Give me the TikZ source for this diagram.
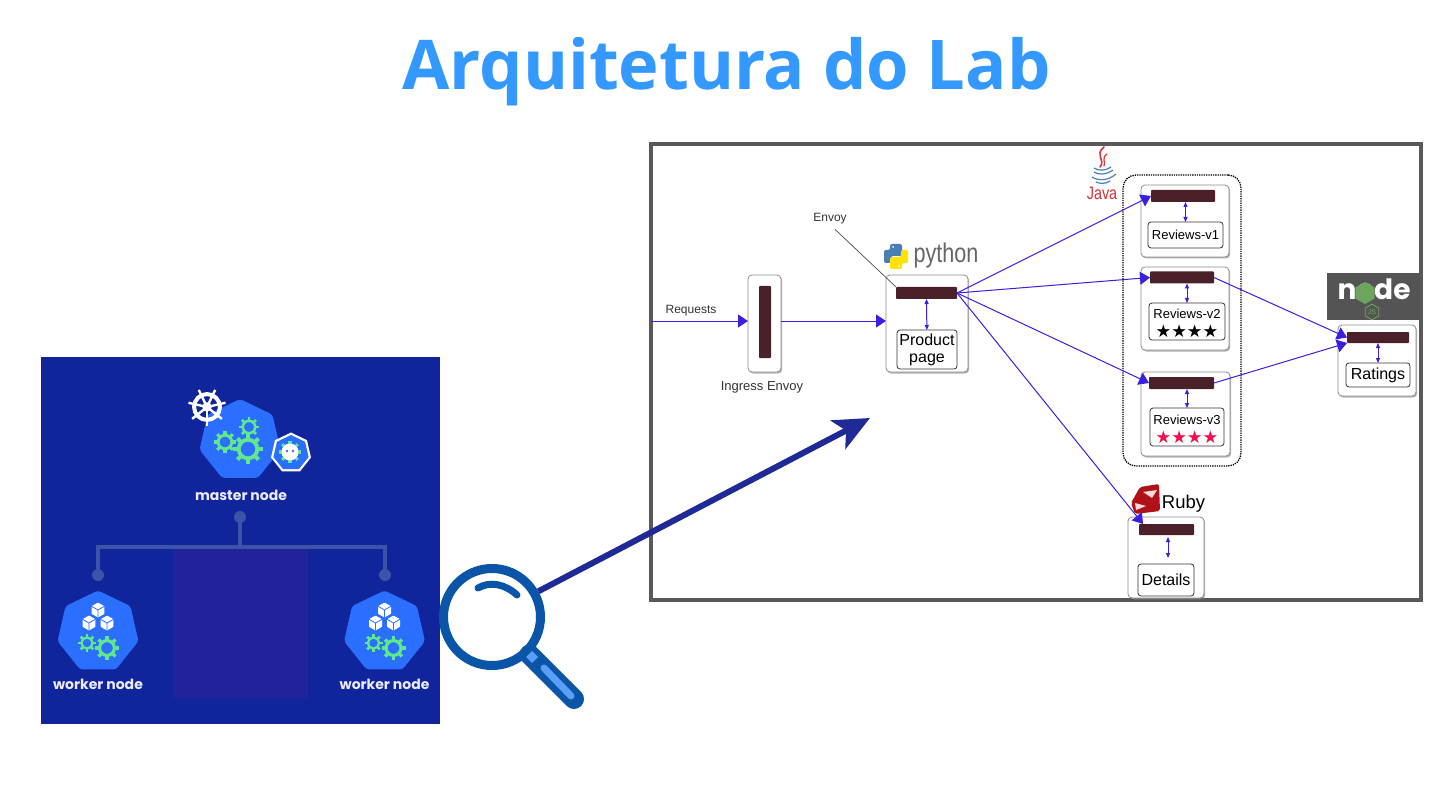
\documentclass[tikz,border=0pt]{standalone}
\usepackage{fontspec}
\setmainfont{Liberation Sans}
\newfontfamily\titlefont{Open Sans}
\newfontfamily\labelfont{Poppins}
\newfontfamily\symbfont{DejaVu Sans}
\newfontfamily\narrowfont[FakeStretch=0.8]{Liberation Sans}
\usetikzlibrary{arrows.meta, shapes.geometric, shadows}
\definecolor{panelblue}{HTML}{10259B}
\definecolor{panelpurple}{HTML}{22239B}
\definecolor{panelline}{HTML}{3C54A8}
\definecolor{hepblue}{HTML}{2A6FFF}
\definecolor{gearcol}{HTML}{62E88C}
\definecolor{titlecol}{HTML}{3399FF}
\definecolor{linkblue}{HTML}{3A1FE0}
\definecolor{barcol}{HTML}{4A2029}
\definecolor{lensblue}{HTML}{0A55A8}
\definecolor{lenslight}{HTML}{5B9EF5}
\definecolor{zoomblue}{HTML}{1F2A96}
\definecolor{starred}{HTML}{F0114F}
\definecolor{rubyred}{HTML}{B01116}
\definecolor{javared}{HTML}{D8333B}
\definecolor{javablue}{HTML}{4A7FB5}
\definecolor{nodegreen}{HTML}{6DA55F}
\newcommand{\px}[1]{\fontsize{#1}{#1}\selectfont}
\tikzset{
  pics/gear/.style={code={
    \draw[gearcol, line width=0.26*#1] (0,0) circle[radius=0.62*#1];
    \foreach \a in {0,45,...,315}
      \draw[gearcol, line width=0.28*#1] (\a:0.7*#1) -- (\a:#1);
  }},
  pics/cube/.style={code={
    \fill[white, rounded corners=0.5] (90:#1) -- (30:#1) -- (-30:#1) -- (-90:#1)
      -- (-150:#1) -- (150:#1) -- cycle;
    \draw[hepblue, line width=0.8] (-150:#1) -- (0,0) -- (-30:#1) (0,0) -- (90:#1);
  }},
  pics/wheel/.style={code={
    \draw[white, line width=4] (0,0) circle[radius=0.68*#1];
    \fill[white] (0,0) circle[radius=0.25*#1];
    \foreach \a in {90,141.4,192.8,244.2,295.6,347,38.6}
      \draw[white, line width=2.4] (0,0) -- (\a:#1);
  }},
}
\begin{document}
\begin{tikzpicture}[
  x=1pt, y=-1pt,
  every node/.style={inner sep=0pt, outer sep=0pt, align=center},
  hep/.style={regular polygon, regular polygon sides=7, fill=hepblue,
              rounded corners=3pt, minimum size=83pt},
  caption/.style={font=\labelfont\bfseries\px{14}, text=white!92!blue},
  link/.style={panelline, line width=4pt},
  dot/.style={circle, fill=panelline, minimum size=12pt},
  podbox/.style={draw=black!45, line width=0.8pt, fill=white, rounded corners=4pt,
                 drop shadow={shadow xshift=1.2pt, shadow yshift=-1.5pt, opacity=0.6}},
  svcbox/.style={draw=black!80, line width=0.8pt, fill=white, rounded corners=3pt},
  bar/.style={fill=barcol, rounded corners=0.8pt},
  tag/.style={text=black!80, font=\px{12}},
  arr/.style={linkblue, line width=1pt, -{Triangle[length=10pt, width=13pt]}},
  darr/.style={linkblue, line width=1pt,
               {Triangle[length=5pt, width=4pt]}-{Triangle[length=5pt, width=4pt]}},
]
  \path[fill=white, use as bounding box] (0,0) rectangle (1440,810);

  \node[font=\titlefont\bfseries\px{68.6}, text=titlecol] (title) at (726.5,72) {Arquitetura do Lab};

  % painel esquerdo
  \node[fill=panelblue, minimum width=399pt, minimum height=367pt] (panel) at (240.5,540.5) {};
  \node[fill=panelpurple, minimum width=135pt, minimum height=149pt] (gap) at (240.5,623.5) {};

  \node[hep] (master) at (240,440.5) {};
  \node[hep] (workerA) at (98,632) {};
  \node[hep] (workerB) at (384.5,632) {};
  \node[caption] (masterlbl) at (241,495) {master node};
  \node[caption] (workerAlbl) at (98,684) {worker node};
  \node[caption] (workerBlbl) at (384.5,684) {worker node};

  \node[dot] (dotM) at (240,517) {};
  \node[dot] (dotA) at (98,575) {};
  \node[dot] (dotB) at (385,575) {};
  \coordinate (busM) at (240,547);
  \draw[link] (dotA.center) -- (98,547) -- (385,547) -- (dotB.center);
  \draw[link] (dotM) -- (busM);

  \pic at (248,449) {gear=15};
  \pic at (225,442) {gear=11};
  \pic at (249,427) {gear=10};
  \pic at (207,407) {wheel=19};

  \node[regular polygon, regular polygon sides=7, fill=white, minimum size=41pt] (badge) at (291,453) {};
  \node[regular polygon, regular polygon sides=7, fill=hepblue, minimum size=36pt] (badgein) at (291,453) {};
  \pic at (290,452) {gear=11};
  \fill[white] (290,452) circle[radius=8.5];
  \fill[hepblue] (287,451) circle[radius=1.4] (293,451) circle[radius=1.4];

  \pic at (98,610) {cube=7.5};
  \pic at (89,623) {cube=7.5};
  \pic at (107,623) {cube=7.5};
  \pic at (87,643) {gear=9};
  \pic at (107,648) {gear=12};
  \pic at (384.5,610) {cube=7.5};
  \pic at (375.5,623) {cube=7.5};
  \pic at (393.5,623) {cube=7.5};
  \pic at (373.5,643) {gear=9};
  \pic at (393.5,648) {gear=12};

  % lupa
  \coordinate (handleEnd) at (574,699);
  \coordinate (glintEnd) at (571,696);
  \node[circle, draw=lensblue, line width=9pt, fill=white, minimum size=97pt, outer sep=4.5pt] (lupa) at (492,617) {};
  \draw[lensblue, line width=20pt, line cap=round] (lupa.-45) -- (handleEnd);
  \draw[lenslight, line width=7pt, line cap=round] (544,668) -- (glintEnd);
  \fill[lenslight] (532,651) -- (538,657) -- (532,663) -- (526,657) -- cycle;
  \draw[lensblue, line width=7pt, line cap=round] (478,588) .. controls (490,581) and (505,584) .. (517,595);

  % quadro da aplicacao
  \node[draw=black!65, line width=3.5pt, fill=white, minimum width=770pt, minimum height=456pt,
        drop shadow={shadow xshift=1pt, shadow yshift=-1pt, opacity=0.25}] (frame) at (1036,372) {};

  \coordinate (zoomtip) at (870,418);
  \draw[zoomblue, line width=6pt, -{Stealth[length=36pt, width=32pt, inset=9pt]}] (lupa.29) -- (zoomtip);

  \node[draw=black, line width=1.3pt, densely dotted, rounded corners=13pt,
        minimum width=118pt, minimum height=291pt] (reviews) at (1182,320.5) {};

  \node[podbox, minimum width=33pt, minimum height=97pt] (ingress) at (764.5,323.5) {};
  \node[bar, minimum width=12pt, minimum height=72pt] (ingressbar) at (765,322) {};
  \node[tag, font=\px{13}] (ingresslbl) at (762,387) {Ingress Envoy};

  \node[podbox, minimum width=82pt, minimum height=97pt] (prod) at (927,323.5) {};
  \node[bar, minimum width=61pt, minimum height=12pt] (prodbar) at (926.5,293) {};
  \node[svcbox, minimum width=60pt, minimum height=39pt, font=\px{16}] (prodsvc) at (927,349.5) {Product\\[1pt]page};
  \draw[darr] (prodbar) -- (prodsvc);

  \node[podbox, minimum width=88pt, minimum height=72pt] (revA) at (1185,221) {};
  \node[bar, minimum width=64pt, minimum height=12pt] (revAbar) at (1183,196) {};
  \node[svcbox, minimum width=75pt, minimum height=26pt, font=\px{13}] (revAsvc) at (1185.5,235) {Reviews-v1};
  \draw[darr] (revAbar.south -| revAsvc) -- (revAsvc);

  \node[podbox, minimum width=88pt, minimum height=83pt] (revB) at (1185,308.5) {};
  \node[bar, minimum width=64pt, minimum height=12pt] (revBbar) at (1182,277.5) {};
  \node[svcbox, minimum width=76pt, minimum height=37pt, font=\px{13}] (revBsvc) at (1187,321.5)
       {\rule{0pt}{13.5pt}Reviews-v2\\[6pt]{\symbfont\px{17.5}★★★★}\hspace{10pt}};
  \draw[darr] (revBbar.south -| revBsvc) -- (revBsvc);

  \node[podbox, minimum width=89pt, minimum height=84pt] (revC) at (1185.5,414) {};
  \node[bar, minimum width=65pt, minimum height=12pt] (revCbar) at (1181.5,383) {};
  \node[svcbox, minimum width=74pt, minimum height=38pt, font=\px{13}] (revCsvc) at (1187,427)
       {\rule{0pt}{13.5pt}Reviews-v3\\[6pt]{\symbfont\px{17.5}\color{starred}★★★★}\hspace{10pt}};
  \draw[darr] (revCbar.south -| revCsvc) -- (revCsvc);

  \node[fill=black!67, minimum width=93pt, minimum height=47pt] (nodebg) at (1373.5,296.5) {};
  \node[font=\labelfont\bfseries\px{28}, text=white] (nodelbl) at (1374,289) {node};
  \node[regular polygon, regular polygon sides=6, fill=nodegreen, rotate=30, minimum size=22pt] (nodehex) at (1365,293) {};
  \node[regular polygon, regular polygon sides=6, draw=nodegreen, line width=0.8pt, rotate=30,
        minimum size=15pt, font=\px{7}, text=nodegreen] (nodejs) at (1372,312) {\rotatebox{-30}{JS}};

  \node[podbox, minimum width=78pt, minimum height=71pt] (rat) at (1377,360.5) {};
  \node[bar, minimum width=62pt, minimum height=11pt] (ratbar) at (1378,337.5) {};
  \node[svcbox, minimum width=64pt, minimum height=24pt, font=\px{16}] (ratsvc) at (1378,375) {Ratings};
  \draw[darr] (ratbar) -- (ratsvc);

  \node[podbox, minimum width=76pt, minimum height=81pt] (det) at (1166,557.5) {};
  \node[bar, minimum width=55pt, minimum height=11pt] (detbar) at (1166.5,529.5) {};
  \node[svcbox, minimum width=56pt, minimum height=32pt, font=\px{16}] (detsvc) at (1166,580) {Details};
  \coordinate (detup) at (1168,537);
  \coordinate (detdn) at (1168,558);
  \draw[darr] (detup) -- (detdn);

  % logos
  \fill[rubyred, rounded corners=2pt] (1140,487) -- (1159,484) -- (1160,511) -- (1135,514) -- (1131,503) -- cycle;
  \fill[white!85!rubyred] (1143,492) -- (1157,490) -- (1152,498) -- cycle
    (1135,503) -- (1146,506) -- (1136,510) -- cycle;
  \node[font=\px{18.5}, text=black] (rubylbl) at (1183.5,504) {Ruby};

  \fill[javablue, rounded corners=2pt]
    (890,244) -- (902,244) -- (902,256) -- (891,256) -- (891,263) -- (884,263) -- (884,250) -- (890,250) -- cycle;
  \fill[yellow!85!orange, rounded corners=2pt]
    (902,269) -- (890,269) -- (890,257) -- (901,257) -- (901,250) -- (908,250) -- (908,263) -- (902,263) -- cycle;
  \fill[white] (893,247) circle[radius=1] (899,266) circle[radius=1];
  \node[font=\narrowfont\px{27}, text=black!60] (pylbl) at (946,256) {python};

  \draw[javared, line width=1.6pt, line cap=round] (1104,147) .. controls (1094,155) and (1106,160) .. (1100,167);
  \draw[javared, line width=1.2pt, line cap=round] (1107,154) .. controls (1101,158) and (1106,162) .. (1104,166);
  \draw[javablue, line width=1.2pt] (1094,168) .. controls (1098,171) and (1106,171) .. (1111,167);
  \draw[javablue, line width=1.2pt] (1094,172) .. controls (1098,175) and (1106,175) .. (1113,170);
  \draw[javablue, line width=1.2pt] (1092,177) .. controls (1098,181) and (1108,181) .. (1116,174);
  \draw[javablue, line width=1.2pt] (1096,182) .. controls (1100,184) and (1106,184) .. (1110,181);
  \node[font=\narrowfont\px{18}, text=javared] (javalbl) at (1102,193) {Java};

  % ligacoes
  \coordinate (reqin) at (651,321);
  \draw[arr] (reqin) -- (ingress.west |- reqin);
  \node[tag] (reqlbl) at (691,311) {Requests};
  \draw[arr] (ingress.east |- reqin) -- (prod.west |- reqin);

  \draw[arr] (prodbar.east) -- (revAbar.west);
  \draw[arr] (prodbar.east) -- (revBbar.west);
  \draw[arr] (prodbar.east) -- (revCbar.west);
  \draw[arr] (prodbar.east) -- ([xshift=4pt]detbar.north west);
  \draw[arr] (revBbar.east) -- (ratbar.west);
  \draw[arr] (revCbar.east) -- (ratbar.south west);

  \node[tag] (envoylbl) at (830,219) {Envoy};
  \draw[black!70, line width=0.7pt] (envoylbl.south) ++(5,5) coordinate (envoyfoot) -- (prodbar.north west);
\end{tikzpicture}
\end{document}
